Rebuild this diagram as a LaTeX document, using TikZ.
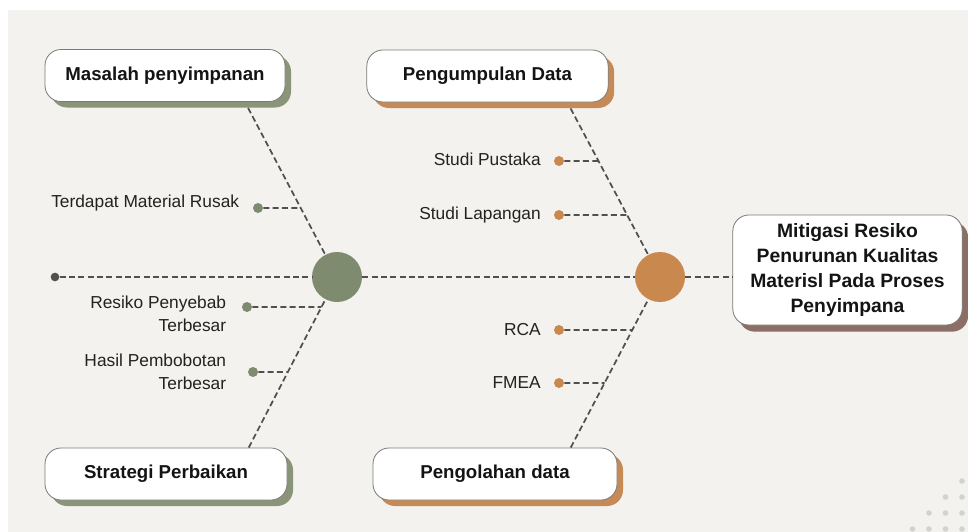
\documentclass[tikz,border=0pt]{standalone}
\usepackage{fontspec}
\setmainfont{Liberation Sans}
\usetikzlibrary{
    shadows,     % For the offset box shadows
    positioning, % For label positioning
    calc
}
\definecolor{paper}{HTML}{F3F2EE}
\definecolor{sage}{HTML}{7F8B6F}
\definecolor{sageshadow}{HTML}{8A9479}
\definecolor{copper}{HTML}{C8884E}
\definecolor{copshadow}{HTML}{C58A55}
\definecolor{taupe}{HTML}{8C6E66}
\definecolor{boxline}{HTML}{7A7A76}
\definecolor{ink}{HTML}{141414}
\definecolor{ink2}{HTML}{222222}
\definecolor{spine}{HTML}{505050}
\definecolor{speck}{HTML}{D2D2CF}

\begin{document}
\begin{tikzpicture}[
    x=0.75pt, y=-0.75pt, % one unit = one pixel of the layout
    box/.style={draw=boxline, line width=0.6pt, fill=white, rounded corners=12pt,
        font=\bfseries\fontsize{14}{18.75}\selectfont, text=ink, align=center,
        minimum height=39pt, inner sep=2pt},
    sagebox/.style={box, drop shadow={shadow xshift=4.5pt, shadow yshift=-4.5pt, fill=sageshadow, opacity=1}},
    copbox/.style={box, drop shadow={shadow xshift=4.5pt, shadow yshift=-4.5pt, fill=copshadow, opacity=1}},
    lbl/.style={font=\fontsize{13}{17.5}\selectfont, text=ink2, align=right, inner sep=0pt},
    gdot/.style={circle, fill=sage, minimum size=7.5pt, inner sep=0pt},
    odot/.style={circle, fill=copper, minimum size=7.5pt, inner sep=0pt},
    hub/.style={circle, minimum size=37.5pt, inner sep=0pt},
    dashline/.style={draw=spine, line width=1.3pt, dash pattern=on 4.5pt off 2.5pt}
]

    % Page and margins
    \fill[white] (0,0) rectangle (968,532);
    \fill[paper] (8,10) rectangle (968,532);
    \useasboundingbox (0,0) rectangle (968,532);

    % Corner speckles
    \foreach \r in {0,...,3}
        \foreach \c in {0,...,\r}
            \fill[speck] (962-16.5*\c, 481+16*\r) circle (2.8);

    % Category boxes
    \node[sagebox, minimum width=180pt] (mp) at (165,75.5) {Masalah penyimpanan};
    \node[copbox, minimum width=181pt] (pd) at (487.5,76) {Pengumpulan Data};
    \node[sagebox, minimum width=181.5pt] (sp) at (166,474) {Strategi Perbaikan};
    \node[copbox, minimum width=183pt] (po) at (495,474) {Pengolahan data};

    % Head box
    \node[box, minimum width=172pt, minimum height=82.5pt,
        font=\bfseries\fontsize{14.5}{18.75}\selectfont,
        drop shadow={shadow xshift=4.5pt, shadow yshift=-5pt, fill=taupe, opacity=1}]
        (mt) at (847.5,270) {Mitigasi Resiko\\Penurunan Kualitas\\Materisl Pada Proses\\Penyimpana};

    % Hubs and tail
    \node[hub, fill=sage] (gc) at (337,277) {};
    \node[hub, fill=copper] (oc) at (660,277) {};
    \node[circle, fill=spine, minimum size=6.5pt, inner sep=0pt] (sd) at (55,277) {};

    % Spine
    \draw[dashline] (sd) -- (gc);
    \draw[dashline] (gc) -- (oc);
    \draw[dashline] (oc) -- (oc -| mt.west);

    % Bones
    \coordinate (mpb) at ([xshift=-28pt, yshift=-4.5pt]mp.south east);
    \coordinate (spt) at ([xshift=-29pt]sp.north east);
    \coordinate (pdb) at ([xshift=-28.5pt, yshift=-4.5pt]pd.south east);
    \coordinate (pot) at ([xshift=-35pt]po.north east);
    \draw[dashline] (mpb) -- (gc);
    \draw[dashline] (spt) -- (gc);
    \draw[dashline] (pdb) -- (oc);
    \draw[dashline] (pot) -- (oc);

    % Causes on the left
    \node[gdot] (d1) at (258,208) {};
    \node[gdot] (d2) at (247,307) {};
    \node[gdot] (d3) at (253,372) {};
    \node[lbl, left=10pt of d1, yshift=3.5pt] (t1) {Terdapat Material Rusak};
    \node[lbl, left=11.5pt of d2, yshift=-4.9pt] (t2) {Resiko Penyebab\\Terbesar};
    \node[lbl, left=16pt of d3] (t3) {Hasil Pembobotan\\Terbesar};

    % Causes on the right
    \node[odot] (d4) at (559,161) {};
    \node[odot] (d5) at (559,215) {};
    \node[odot] (d6) at (559,330) {};
    \node[odot] (d7) at (559,383) {};
    \node[lbl, left=9.5pt of d4, yshift=1pt] (t4) {Studi Pustaka};
    \node[lbl, left=9.5pt of d5] (t5) {Studi Lapangan};
    \node[lbl, left=9.5pt of d6] (t6) {RCA};
    \node[lbl, left=9.5pt of d7] (t7) {FMEA};

    % Twigs from dots to bones
    \foreach \i in {1,...,7}
        \coordinate (dr\i) at ([xshift=80pt]d\i.center);
    \draw[dashline] (d1) -- (intersection of d1--dr1 and mpb--gc);
    \draw[dashline] (d2) -- (intersection of d2--dr2 and spt--gc);
    \draw[dashline] (d3) -- (intersection of d3--dr3 and spt--gc);
    \draw[dashline] (d4) -- (intersection of d4--dr4 and pdb--oc);
    \draw[dashline] (d5) -- (intersection of d5--dr5 and pdb--oc);
    \draw[dashline] (d6) -- (intersection of d6--dr6 and pot--oc);
    \draw[dashline] (d7) -- (intersection of d7--dr7 and pot--oc);

\end{tikzpicture}
\end{document}
